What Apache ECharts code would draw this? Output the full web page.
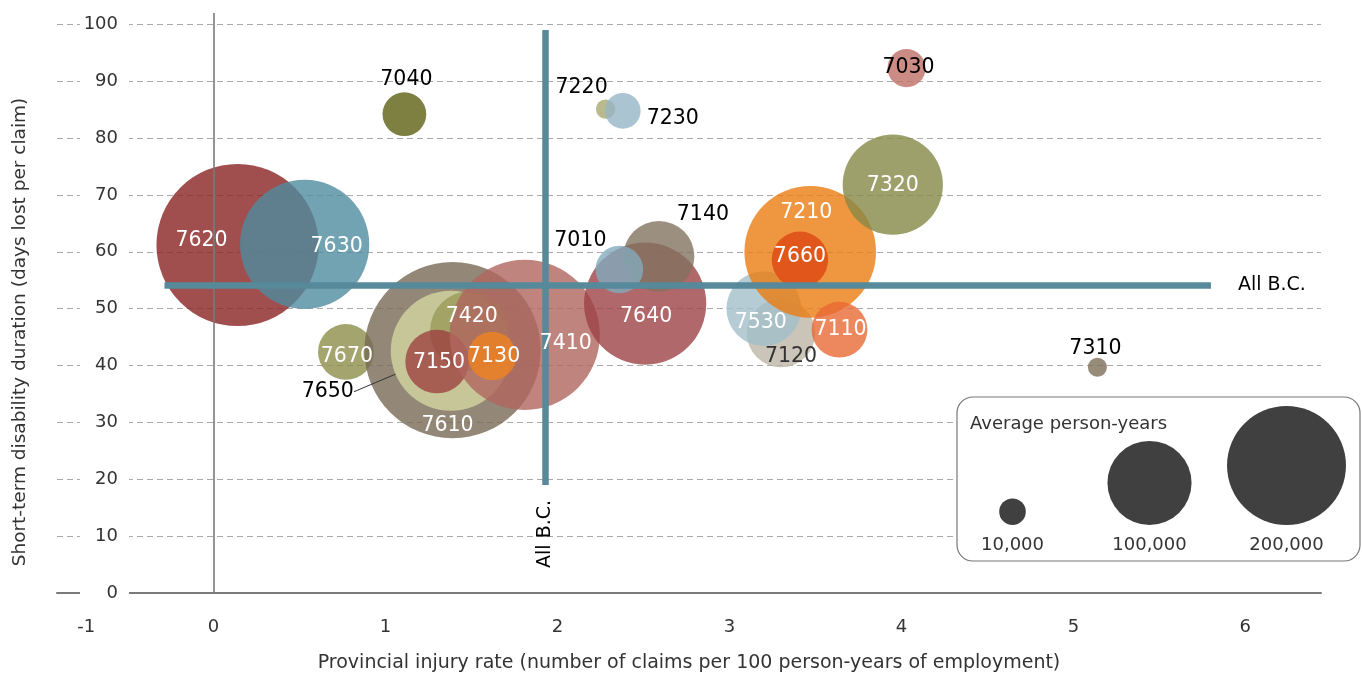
<!DOCTYPE html>
<html>
<head>
<meta charset="utf-8">
<script src="https://cdn.jsdelivr.net/npm/echarts@6/dist/echarts.min.js"></script>
<style>
html, body { margin: 0; padding: 0; background: #fff; }
#main { width: 1362px; height: 677px; }
</style>
</head>
<body>
<div id="main"></div>
<script>
// occupation codes, in drawing order
var codes = ["7620", "7630", "7040", "7670", "7610", "7650", "7420", "7150", "7410", "7130", "7640",
  "7140", "7010", "7220", "7230", "7030", "7120", "7530", "7210", "7660", "7320", "7110", "7310"];
var injuryRate = [0.14, 0.53, 1.11, 0.77, 1.39, 1.38, 1.49, 1.30, 1.81, 1.62, 2.51,
  2.59, 2.36, 2.28, 2.38, 4.03, 3.30, 3.20, 3.47, 3.41, 3.95, 3.64, 5.14];
var daysLost = [61.2, 61.3, 84.2, 42.4, 42.7, 42.6, 46.1, 40.7, 45.4, 41.7, 50.9,
  59.2, 56.9, 85.1, 84.8, 92.3, 45.7, 50.0, 60.0, 58.6, 71.8, 46.3, 39.7];
var personYears = [372000, 236000, 27000, 44000, 439000, 204000, 89000, 57000, 319000, 33000, 211000,
  71000, 32000, 5300, 18000, 20500, 66000, 79000, 245000, 45000, 142000, 44000, 5100];

// all B.C. reference
var allBcRate = 1.93;
var allBcDays = 54.2;
var allBcRateSpan = [-0.285, 5.80];
var allBcDaysSpan = [19, 99];

// axis ticks
var xTickValues = [-0.74, 0, 1, 2, 3, 4, 5, 6];
var xTickLabels = ["-1", "0", "1", "2", "3", "4", "5", "6"];

// size legend
var legendValues = [10000, 100000, 200000];
var legendLabels = ["10,000", "100,000", "200,000"];

// styles
var bubbleColors = ["#882322", "#4f8c9f", "#5d6012", "#8c8d4a", "#786955", "#d3d6a3", "#989a58", "#9e4240", "#b0655f", "#ef8320", "#9c4246",
  "#827360", "#82abbd", "#a9a872", "#96b5c6", "#bf6f68", "#beb5a6", "#a2bfca", "#eb7c10", "#dd4612", "#868846", "#e86936", "#7d6e59"];
var darkLabels = ["7040", "7650", "7140", "7010", "7220", "7230", "7030", "7310"];
var labelOffsets = [[-36, -4], [32, 2], [2, -35], [1, 5], [-5, 75], [-123, 41], [2, -14], [2, 1], [41, 9], [2, 1], [1, 13],
  [44, -42], [-39, -29], [-24, -21], [50, 8], [2, 0], [10, 24], [-3, 14], [-4, -39], [0, -3], [0, 1], [1, 0], [-2, -19]];

var FONT = "DejaVu Sans";
var TEAL = "#568a9b";
var ALPHA = 0.8;

function bubbleSize(v) {
  return Math.sqrt(v) * 0.266;
}

function fade(hex, a) {
  var n = parseInt(hex.slice(1), 16);
  return "rgba(" + (n >> 16) + "," + ((n >> 8) & 255) + "," + (n & 255) + "," + a + ")";
}

var bubbleData = codes.map(function (c, i) {
  return {
    name: c,
    value: [injuryRate[i], daysLost[i], personYears[i]],
    itemStyle: { color: fade(bubbleColors[i], ALPHA) }
  };
});

// same points again, invisible, carrying the code labels above the reference lines
var labelData = codes.map(function (c, i) {
  var item = {
    name: c,
    value: [injuryRate[i], daysLost[i], personYears[i]],
    label: { color: darkLabels.indexOf(c) >= 0 ? "#000" : (c === "7120" ? "#333" : "#fff") }
  };
  if (c === "7650") {
    item.labelLine = { show: true, lineStyle: { color: "#333", width: 1 } };
  }
  return item;
});

var legendData = legendValues.map(function (v, i) {
  var s = bubbleSize(v);
  return { value: [legendLabels[i], 0, v], symbolSize: s, symbolOffset: [0, -s / 2] };
});

var chart = echarts.init(document.getElementById("main"));

var option = {
  animation: false,
  grid: [
    { left: 57, right: 41, top: 13, bottom: 84, outerBoundsMode: "none", containLabel: false },
    { left: 944, width: 411, top: 400, height: 125, outerBoundsMode: "none", containLabel: false }
  ],
  xAxis: [
    {
      type: "value",
      min: -0.91,
      max: 6.44,
      z: 0,
      axisLine: { onZero: false, lineStyle: { color: "#7a7a7a", width: 2 } },
      axisTick: { show: false },
      splitLine: { show: false },
      axisLabel: {
        customValues: xTickValues,
        formatter: function (v) {
          var i = xTickValues.indexOf(v);
          return i >= 0 ? xTickLabels[i] : "";
        },
        color: "#333",
        fontFamily: FONT,
        fontSize: 18,
        margin: 25
      },
      name: "Provincial injury rate (number of claims per 100 person-years of employment)",
      nameLocation: "middle",
      nameGap: 61,
      nameTextStyle: { color: "#333", fontFamily: FONT, fontSize: 19 }
    },
    {
      type: "category",
      gridIndex: 1,
      data: legendLabels,
      axisLine: { show: false },
      axisTick: { show: false },
      axisLabel: { color: "#333", fontFamily: FONT, fontSize: 18, margin: 11 },
      z: 10
    }
  ],
  yAxis: [
    {
      type: "value",
      min: 0,
      max: 102,
      interval: 10,
      offset: -72,
      z: 1,
      axisLine: { show: false },
      axisTick: { show: false },
      splitLine: {
        show: true,
        showMinLine: false,
        showMaxLine: false,
        lineStyle: { color: "#aaa", type: [6, 4], width: 1.2 }
      },
      axisLabel: {
        showMaxLabel: false,
        color: "#333",
        fontFamily: FONT,
        fontSize: 18,
        backgroundColor: "#fff",
        width: 35,
        align: "right",
        padding: [1, 11, 1, 3],
        margin: 0
      },
      name: "Short-term disability duration (days lost per claim)",
      nameLocation: "middle",
      nameGap: 99,
      nameTextStyle: { color: "#333", fontFamily: FONT, fontSize: 18.5, padding: [0, 58, 0, 0] }
    },
    {
      type: "value",
      gridIndex: 1,
      min: 0,
      max: 1,
      show: false
    }
  ],
  graphic: [
    {
      type: "rect",
      z: 5,
      shape: { x: 957, y: 397, width: 403, height: 164, r: 16 },
      style: { fill: "#fff", stroke: "#777", lineWidth: 1.2 }
    },
    {
      type: "text",
      z: 6,
      x: 970,
      y: 415,
      style: { text: "Average person-years", fill: "#333", font: "18px " + FONT }
    }
  ],
  series: [
    {
      type: "scatter",
      name: "zero",
      z: 1,
      data: [],
      markLine: {
        silent: true,
        symbol: ["none", "none"],
        label: { show: false },
        lineStyle: { color: "#7a7a7a", width: 1.6, type: "solid" },
        data: [{ xAxis: 0 }]
      }
    },
    {
      type: "scatter",
      name: "occupations",
      z: 2,
      data: bubbleData,
      itemStyle: { opacity: 1 },
      symbolSize: function (val) { return bubbleSize(val[2]); },
      emphasis: { disabled: true }
    },
    {
      type: "scatter",
      name: "All B.C.",
      z: 4,
      data: [{ value: [allBcRate, allBcDaysSpan[0]], symbolSize: 0 }],
      itemStyle: { opacity: 1 },
      label: {
        show: true,
        position: "inside",
        formatter: "All B.C.",
        rotate: 90,
        offset: [-49, 0],
        color: "#000",
        fontFamily: FONT,
        fontSize: 19
      },
      markLine: {
        silent: true,
        symbol: ["none", "none"],
        lineStyle: { color: TEAL, width: 6.5, type: "solid", opacity: 1 },
        label: { show: false },
        data: [
          [
            { coord: [allBcRateSpan[0], allBcDays] },
            {
              coord: [allBcRateSpan[1], allBcDays],
              label: {
                show: true,
                position: "end",
                formatter: "All B.C.",
                distance: 27,
                color: "#000",
                fontFamily: FONT,
                fontSize: 19
              }
            }
          ],
          [
            { coord: [allBcRate, allBcDaysSpan[0]] },
            { coord: [allBcRate, allBcDaysSpan[1]] }
          ]
        ]
      }
    },
    {
      type: "scatter",
      name: "codes",
      z: 6,
      silent: true,
      data: labelData,
      symbolSize: function (val) { return bubbleSize(val[2]); },
      itemStyle: { color: "rgba(0,0,0,0)", opacity: 1 },
      label: {
        show: true,
        position: "inside",
        formatter: "{b}",
        fontFamily: FONT,
        fontSize: 20.5
      },
      labelLayout: function (p) {
        var o = labelOffsets[p.dataIndex];
        return { dx: o[0], dy: o[1] };
      },
      emphasis: { disabled: true }
    },
    {
      type: "scatter",
      name: "size legend",
      xAxisIndex: 1,
      yAxisIndex: 1,
      z: 10,
      data: legendData,
      itemStyle: { color: "#404040", opacity: 1 },
      emphasis: { disabled: true }
    }
  ]
};

chart.setOption(option);
</script>
</body>
</html>
